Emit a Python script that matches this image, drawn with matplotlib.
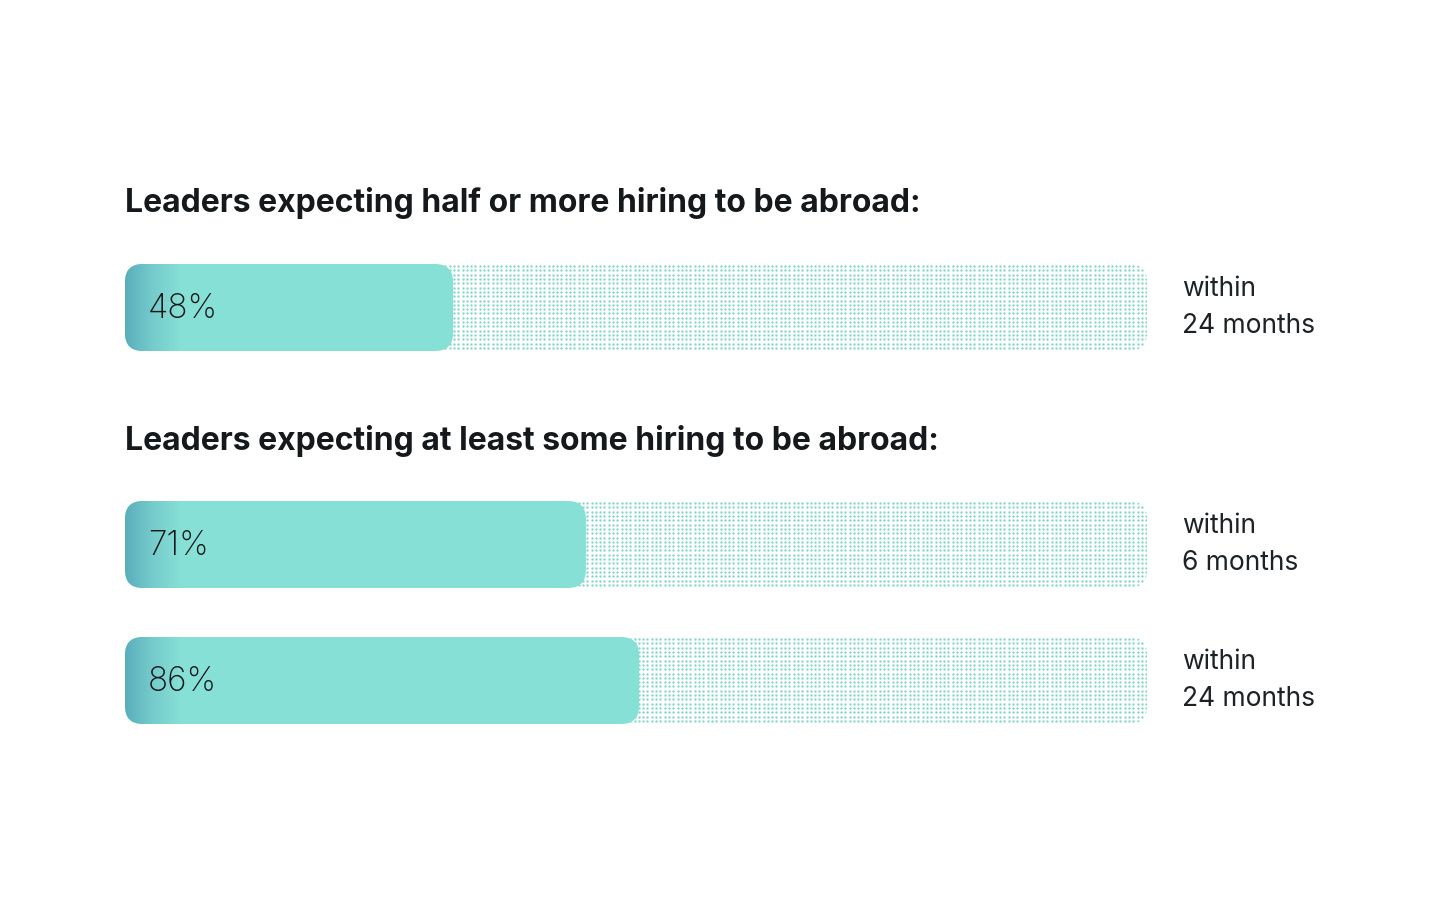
import numpy as np
import matplotlib
matplotlib.use("Agg")
import matplotlib.pyplot as plt
from matplotlib.patches import FancyBboxPatch
from matplotlib.colors import LinearSegmentedColormap

# data
titles = ["Leaders expecting half or more hiring to be abroad:",
          "Leaders expecting at least some hiring to be abroad:"]
labels = ["48%", "71%", "86%"]
fill_len = [32.1, 45.1, 50.3]   # filled part of the track, % of track width
periods = ["within\n24 months", "within\n6 months", "within\n24 months"]

# layout (px)
W, H = 1440, 916
x0, track_px = 125, 1022
u = track_px / 100.0            # px per unit
bar_top_px = [264, 501, 637]
bar_h_px = 87
title_y_px = [203, 441]

plt.rcParams['font.family'] = ['Inter', 'DejaVu Sans']

fig = plt.figure(figsize=(W / 100, H / 100), dpi=100)
ax = fig.add_axes([0, 0, 1, 1])
ax.set_xlim(-x0 / u, (W - x0) / u)
ax.set_ylim(H / u, 0)
ax.set_aspect('equal')
ax.axis('off')

bh = bar_h_px / u
rad = 18 / u
fill_col = '#86e0d5'
dot_col = '#86d9ca'
grad = LinearSegmentedColormap.from_list('g', ['#5aaebb', '#76cbcc', fill_col])
grad_w = 55 / u

for i, (lab, fl, per) in enumerate(zip(labels, fill_len, periods)):
    y = bar_top_px[i] / u
    # dotted track
    track = FancyBboxPatch((0, y), 100, bh, boxstyle=f"round,pad=0,rounding_size={rad}",
                           fc='none', ec='none')
    ax.add_patch(track)
    step = 4.3 / u
    gx, gy = np.meshgrid(np.arange(step / 2, 100, step), np.arange(y + step / 2, y + bh, step))
    dots = ax.scatter(gx.ravel(), gy.ravel(), s=3.0, c=dot_col, marker='o',
                      linewidths=0, zorder=1)
    dots.set_clip_path(track)

    # filled bar
    bar = FancyBboxPatch((0, y), fl, bh, boxstyle=f"round,pad=0,rounding_size={rad}",
                         fc=fill_col, ec='none', zorder=2)
    ax.add_patch(bar)
    g = np.linspace(0, 1, 100)[None, :]
    im = ax.imshow(g, cmap=grad, extent=(0, grad_w, y + bh, y), aspect='auto',
                   interpolation='bilinear', zorder=3)
    im.set_clip_path(bar)

    ax.text(23 / u, y + bh / 2 + 0.1, lab, fontsize=24, fontweight='light',
            color='#111517', va='center', ha='left', zorder=4)
    ax.text((1182 - x0) / u, y + bh / 2, per, fontsize=19, color='#1d2226',
            va='center', ha='left', linespacing=1.55)

for t, ty in zip(titles, title_y_px):
    ax.text(0, ty / u, t, fontsize=23, fontweight='bold', color='#15191c',
            va='center', ha='left')

fig.savefig('out.png', dpi=100, facecolor='white')
